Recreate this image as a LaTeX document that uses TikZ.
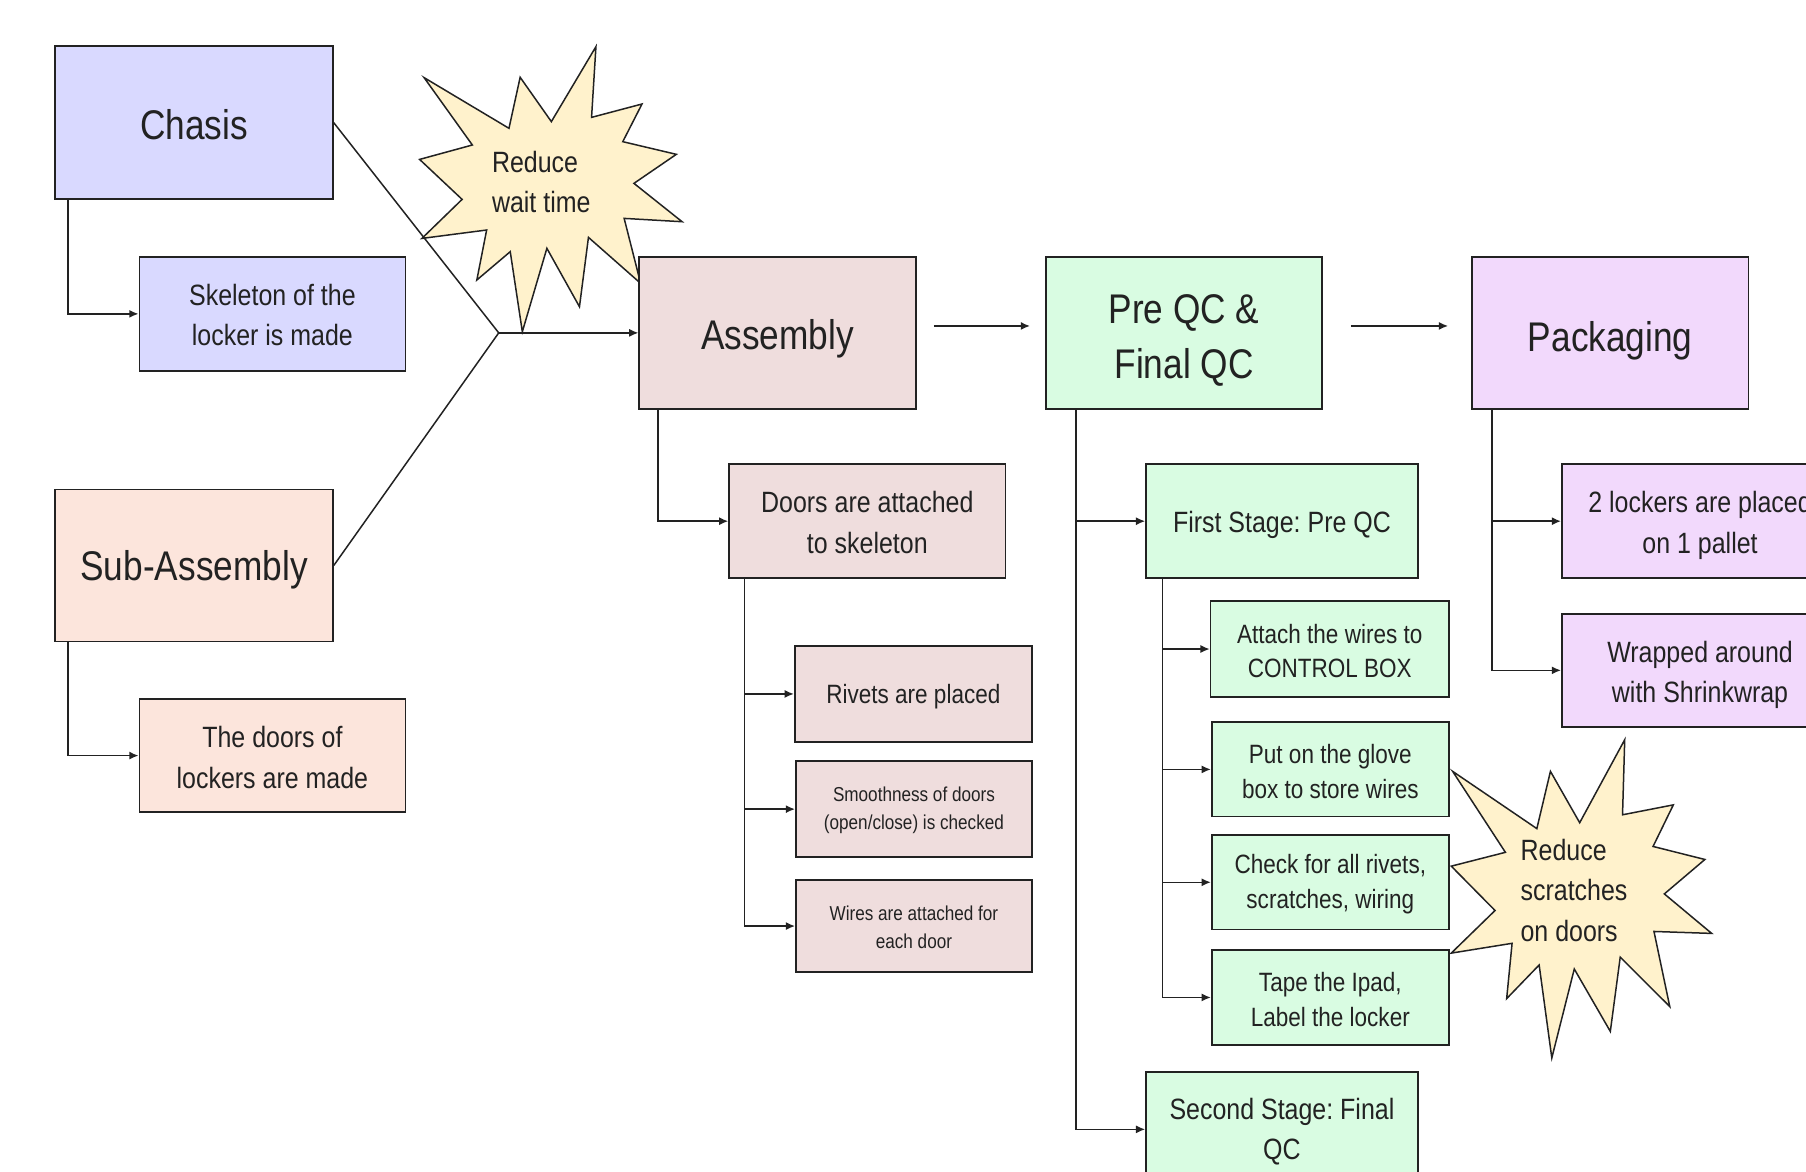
\documentclass[tikz,border=0pt]{standalone}
\usepackage{fontspec}
\setmainfont{Liberation Sans}[FakeStretch=0.85]
\usetikzlibrary{arrows.meta,calc}
\definecolor{cBlue}{RGB}{217,217,255}
\definecolor{cPeach}{RGB}{252,229,220}
\definecolor{cRose}{RGB}{239,221,221}
\definecolor{cGreen}{RGB}{217,252,226}
\definecolor{cViolet}{RGB}{242,217,252}
\definecolor{cStar}{RGB}{255,242,204}
\definecolor{cInk}{RGB}{34,34,34}
\newcommand{\fbig}{\fontsize{36}{48}\selectfont}
\newcommand{\fmed}{\fontsize{25.5}{35}\selectfont}
\newcommand{\fsml}{\fontsize{23}{30}\selectfont}
\newcommand{\ftiny}{\fontsize{17.5}{24}\selectfont}
\newcommand{\lift}[1]{\rule{0pt}{#1}}
\frenchspacing
\begin{document}
\begin{tikzpicture}[x=1pt,y=-1pt,
  box/.style={draw=cInk,line width=1.5pt,inner sep=0pt,align=center,text=cInk},
  conn/.style={line width=1.3pt,draw=cInk},
  arr/.style={conn,-{Latex[length=8pt,width=7pt]}},
  burst/.style={draw=cInk,line width=1.3pt,fill=cStar,line join=miter}]
\useasboundingbox (0,0) rectangle (1568,1017);
\fill[white] (0,0) rectangle (1568,1017);
\clip (0,0) rectangle (1568,1017);

% starburst 1
\draw[burst] (517.4,40.5) -- (513.6,101.9) -- (557.4,90.3) -- (540.7,123.0) -- (587.2,134.0) -- (550.4,159.2) -- (592.2,192.5) -- (541.9,189.6) -- (556.2,246.0) -- (510.9,206.1) -- (503.1,266.3) -- (474.8,215.6) -- (453.5,288.0) -- (443.0,218.5) -- (414.0,243.1) -- (422.5,199.7) -- (366.3,207.0) -- (401.2,173.1) -- (364.3,138.4) -- (410.1,125.9) -- (368.2,67.4) -- (441.9,111.4) -- (451.6,67.1) -- (478.7,105.6) -- cycle;
\node[anchor=west,align=left,text=cInk,font=\fmed,inner sep=0pt] (rw) at (427,158) {Reduce\\wait time};

% main boxes
\node[box,fill=cBlue,minimum width=241pt,minimum height=133pt,font=\fbig] (chasis) at (168.5,106.5) {\lift{30pt}Chasis};
\node[box,fill=cBlue,minimum width=231pt,minimum height=99pt,font=\fmed] (skel) at (236.5,272.5) {\lift{21pt}Skeleton of the\\locker is made};
\node[box,fill=cPeach,minimum width=241pt,minimum height=132pt,font=\fbig] (sub) at (168.5,491) {\lift{34pt}Sub-Assembly};
\node[box,fill=cPeach,minimum width=231pt,minimum height=98pt,font=\fmed] (doorsm) at (236.5,656) {\lift{22pt}The doors of\\lockers are made};

\node[box,fill=cRose,minimum width=240pt,minimum height=132pt,font=\fbig] (asm) at (675,289) {\lift{37pt}Assembly};
\node[box,fill=cGreen,minimum width=240pt,minimum height=132pt,font=\fbig] (preqc) at (1028,289) {\lift{38pt}Pre QC \&\\Final QC};
\node[box,fill=cViolet,minimum width=240pt,minimum height=132pt,font=\fbig] (pack) at (1398,289) {\lift{40pt}Packaging};

\node[box,fill=cRose,minimum width=240pt,minimum height=99pt,font=\fmed] (doorsatt) at (753,452.5) {\lift{21pt}Doors are attached\\to skeleton};
\node[box,fill=cRose,minimum width=206pt,minimum height=83pt,font=\fsml] (rivets) at (793,602.5) {\lift{21pt}Rivets are placed};
\node[box,fill=cRose,minimum width=205pt,minimum height=83pt,font=\ftiny] (smooth) at (793.5,702.5) {\lift{15pt}Smoothness of doors\\(open/close) is checked};
\node[box,fill=cRose,minimum width=205pt,minimum height=80pt,font=\ftiny] (wires) at (793.5,804) {\lift{15pt}Wires are attached for\\each door};

\node[box,fill=cGreen,minimum width=236pt,minimum height=99pt,font=\fmed] (first) at (1113,452.5) {\lift{25pt}First Stage: Pre QC};
\node[box,fill=cGreen,minimum width=207pt,minimum height=83pt,font=\fsml] (attach) at (1154.5,563.5) {\lift{20pt}Attach the wires to\\CONTROL BOX};
\node[box,fill=cGreen,minimum width=206pt,minimum height=82pt,font=\fsml] (glove) at (1155,668) {\lift{20pt}Put on the glove\\box to store wires};
\node[box,fill=cGreen,minimum width=206pt,minimum height=82pt,font=\fsml] (check) at (1155,766) {\lift{20pt}Check for all rivets,\\scratches, wiring};
\node[box,fill=cGreen,minimum width=206pt,minimum height=82pt,font=\fsml] (tape) at (1155,866) {\lift{20pt}Tape the Ipad,\\Label the locker};
\node[box,fill=cGreen,minimum width=236pt,minimum height=99pt,font=\fmed] (second) at (1113,980.5) {\lift{22pt}Second Stage: Final\\QC};

\node[box,fill=cViolet,minimum width=240pt,minimum height=99pt,font=\fmed] (lockers) at (1476,452.5) {\lift{26pt}2 lockers are placed\\on 1 pallet};
\node[box,fill=cViolet,minimum width=240pt,minimum height=98pt,font=\fmed] (wrapped) at (1476,582) {\lift{26pt}Wrapped around\\with Shrinkwrap};

% starburst 2
\draw[burst] (1261.2,669.7) -- (1334.3,719.4) -- (1346.1,669.7) -- (1371.5,714.3) -- (1410.6,642.2) -- (1408.7,707.4) -- (1452.8,698.8) -- (1435.2,734.9) -- (1480.2,746.2) -- (1445.0,776.1) -- (1486.1,810.4) -- (1436.0,808.7) -- (1449.7,873.9) -- (1406.7,831.0) -- (1398.1,895.5) -- (1366.8,841.3) -- (1347.3,918.5) -- (1336.3,837.8) -- (1308.1,867.0) -- (1312.8,819.0) -- (1260.0,827.5) -- (1298.0,790.5) -- (1260.0,752.0) -- (1307.0,740.0) -- cycle;
\node[anchor=west,align=left,text=cInk,font=\fmed,inner sep=0pt] (rs) at (1320,773) {Reduce\\scratches\\on doors};

% connectors
\coordinate (j) at (433,289);
\draw[conn] (chasis.east) -- (j);
\draw[conn] (sub.east) -- (j);
\draw[arr] (j) -- (asm.west);
\draw[arr] ([xshift=12pt]chasis.south west) |- (skel.west);
\draw[arr] ([xshift=12pt]sub.south west) |- (doorsm.west);
\draw[arr] ($(asm.east)+(15,-6)$) -- ($(preqc.west)+(-13,-6)$);
\draw[arr] ($(preqc.east)+(24,-6)$) -- ($(pack.west)+(-20,-6)$);
\draw[arr] ([xshift=17pt]asm.south west) |- (doorsatt.west);
\draw[arr] ([xshift=14pt]doorsatt.south west) |- (rivets.west);
\draw[arr] ([xshift=14pt]doorsatt.south west) |- (smooth.west);
\draw[arr] ([xshift=14pt]doorsatt.south west) |- (wires.west);
\draw[arr] ([xshift=27pt]preqc.south west) |- (first.west);
\draw[arr] ([xshift=27pt]preqc.south west) |- (second.west);
\draw[arr] ([xshift=15pt]first.south west) |- (attach.west);
\draw[arr] ([xshift=15pt]first.south west) |- (glove.west);
\draw[arr] ([xshift=15pt]first.south west) |- (check.west);
\draw[arr] ([xshift=15pt]first.south west) |- (tape.west);
\draw[arr] ([xshift=18pt]pack.south west) |- (lockers.west);
\draw[arr] ([xshift=18pt]pack.south west) |- (wrapped.west);
\end{tikzpicture}
\end{document}
